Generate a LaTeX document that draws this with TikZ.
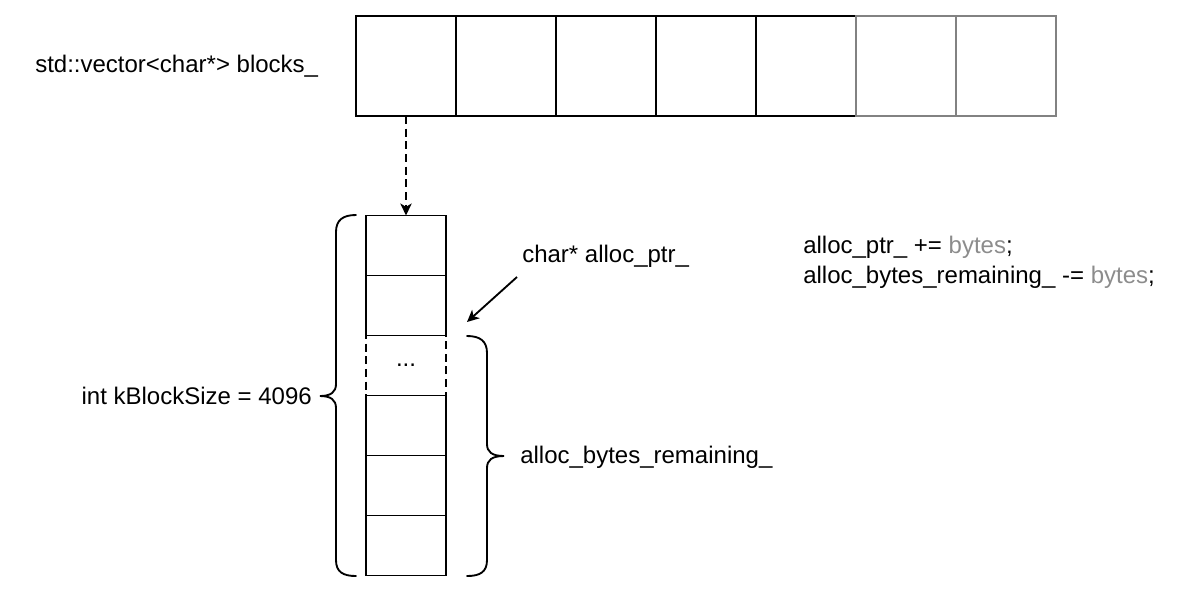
\documentclass[tikz,border=0pt]{standalone}
\usepackage{fontspec}
\setmainfont{Liberation Sans}
\definecolor{arenaGray}{RGB}{130,130,130}
\definecolor{bytesGray}{RGB}{140,140,140}
\usetikzlibrary{arrows.meta,positioning}

\begin{document}
\begin{tikzpicture}[
    x=0.75pt, y=-0.75pt,
    every node/.style={font=\fontsize{18}{21}\selectfont},
    slot/.style={rectangle, draw, line width=1.4pt, outer sep=0pt,
                 minimum width=75pt, minimum height=75pt, inner sep=0pt},
    spare/.style={slot, draw=arenaGray},
    cell/.style={rectangle, draw, line width=1.4pt, outer sep=0pt,
                 minimum width=60pt, minimum height=45pt, inner sep=0pt},
    label/.style={inner sep=0pt},
    brace/.style={line width=1.4pt, line cap=round},
    arr/.style={-{Stealth[length=9pt, width=8.5pt, inset=2.5pt]}, line width=1.4pt}
  ]
  \useasboundingbox (0,0) rectangle (1204,594);

  % the vector of block pointers
  \node[label, anchor=west] (vec) at (35,66) {std::vector<char*> blocks\_};
  \node[slot] (v1) at (406,66) {};
  \node[slot, right=0pt of v1] (v2) {};
  \node[slot, right=0pt of v2] (v3) {};
  \node[slot, right=0pt of v3] (v4) {};
  \node[slot, right=0pt of v4] (v5) {};
  \node[spare, right=0pt of v5] (v6) {};
  \node[spare, right=0pt of v6] (v7) {};

  % one block
  \node[cell, dashed, dash pattern=on 6pt off 3.5pt] (b3) at (406,365.5) {...};
  \node[cell, above=0pt of b3] (b2) {};
  \node[cell, above=0pt of b2] (b1) {};
  \node[cell, below=0pt of b3] (b4) {};
  \node[cell, below=0pt of b4] (b5) {};
  \node[cell, below=0pt of b5] (b6) {};

  \draw[arr, dash pattern=on 6pt off 3.5pt] (v1.south) -- (b1.north);

  % kBlockSize brace
  \draw[brace] (356,215) .. controls (343,215) and (336,220) .. (336,232)
    -- (336,384) .. controls (336,392) and (331,396) .. (320,396)
    .. controls (331,396) and (336,400) .. (336,408)
    -- (336,560) .. controls (336,572) and (343,576) .. (356,576);
  \node[label, anchor=east] (size) at (312,396) {int kBlockSize = 4096};

  % remaining brace
  \draw[brace] (467,336) .. controls (480,336) and (487,341) .. (487,353)
    -- (487,444) .. controls (487,452) and (492,456) .. (504,456)
    .. controls (492,456) and (487,460) .. (487,468)
    -- (487,560) .. controls (487,572) and (480,576) .. (467,576);
  \node[label, anchor=west] (remain) at (520,457) {alloc\_bytes\_remaining\_};

  % alloc pointer
  \node[label, anchor=west] (ptr) at (522,256) {char* alloc\_ptr\_};
  \coordinate (ptrfrom) at (517,277);
  \coordinate (ptrto) at (467,322);
  \draw[arr] (ptrfrom) -- (ptrto);

  \node[label, anchor=west] (upd1) at (803,247)
    {alloc\_ptr\_ += \textcolor{bytesGray}{bytes};};
  \node[label, anchor=west] (upd2) at (803,277)
    {alloc\_bytes\_remaining\_ -= \textcolor{bytesGray}{bytes};};
\end{tikzpicture}
\end{document}
